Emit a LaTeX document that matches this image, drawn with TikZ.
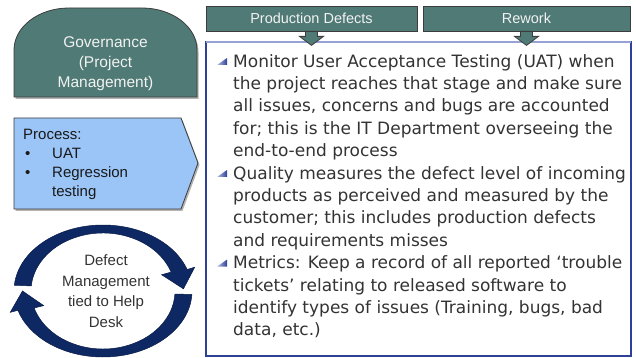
\documentclass[tikz,border=0pt]{standalone}
\usepackage{fontspec}
\setmainfont{Liberation Sans}
\newfontfamily\verd{DejaVu Sans}
\usetikzlibrary{calc,shadows}
\definecolor{tealbox}{RGB}{79,122,118}
\definecolor{hdrtext}{RGB}{242,242,242}
\definecolor{procblue}{RGB}{155,196,247}
\definecolor{navyarrow}{RGB}{14,40,100}
\definecolor{boxblue}{RGB}{45,66,150}
\definecolor{boxtop}{RGB}{150,162,212}
\definecolor{textgray}{RGB}{51,51,51}
\definecolor{edgegray}{RGB}{60,60,60}
\begin{document}
\begin{tikzpicture}[x=1pt,y=1pt,
  shapeedge/.style={draw=edgegray,line width=0.8pt},
  softshadow/.style={drop shadow={shadow xshift=1.5pt,shadow yshift=-2pt,opacity=0.3,fill=black}},
  hdr/.style={shapeedge,fill=tealbox,text=hdrtext,minimum width=211pt,minimum height=25pt,inner sep=0pt,font=\fontsize{14.5}{17}\selectfont},
  downarrow/.style={shapeedge,fill=tealbox,line join=miter},
  cyclearrow/.style={fill=navyarrow,draw=navyarrow!70!black,line width=0.5pt},
  bultri/.style={left color=boxtop!70!white,right color=boxblue}]
\useasboundingbox (0,0) rectangle (636,358);

% ---- Governance (rounded top) ----
\path[shapeedge,fill=tealbox,softshadow] (14,261) -- (14,308)
  arc[start angle=180,end angle=90,x radius=55pt,y radius=42pt] -- (142,350)
  arc[start angle=90,end angle=0,x radius=55pt,y radius=42pt] -- (197,261) -- cycle;
\node[align=center,text=hdrtext,font=\fontsize{15.5}{20}\selectfont] (gov) at (105.5,294) {Governance\\(Project\\Management)};

% ---- Process chevron ----
\path[shapeedge,fill=procblue,softshadow] (14,240) -- (181,240) -- (198,195) -- (181,149) -- (14,149) -- cycle;
\node[anchor=north west,inner sep=0pt,font=\fontsize{15}{19}\selectfont,text=black!90] (proc) at (23,232)
 {\begin{tabular}{@{}p{29pt}@{}l@{}}
  \multicolumn{2}{@{}l@{}}{Process:}\\
  \hspace{2pt}\textbullet & UAT\\
  \hspace{2pt}\textbullet & Regression\\
  & testing
 \end{tabular}};

% ---- Cycle arrows ----
\coordinate (C) at (103,67);
\path[cyclearrow] ($(C)+(175:89pt and 66pt)$)
  arc[start angle=175,end angle=19,x radius=89pt,y radius=66pt]
  -- ($(C)+(19:97pt and 73pt)$) -- ($(C)+(2:80.5pt and 62pt)$)
  -- ($(C)+(19:62pt and 50pt)$) -- ($(C)+(19:72pt and 58pt)$)
  arc[start angle=19,end angle=175,x radius=72pt,y radius=58pt] -- cycle;
\path[cyclearrow] ($(C)+(-3:89pt and 66pt)$)
  arc[start angle=-3,end angle=-163,x radius=89pt,y radius=66pt]
  -- ($(C)+(-163:97pt and 73pt)$) -- ($(C)+(-180:80.5pt and 62pt)$)
  -- ($(C)+(-163:62pt and 50pt)$) -- ($(C)+(-163:72pt and 58pt)$)
  arc[start angle=-163,end angle=-3,x radius=72pt,y radius=58pt] -- cycle;
\node[align=center,text=textgray,font=\fontsize{15}{20.5}\selectfont] (cyc) at (106,67) {Defect\\Management\\tied to Help\\Desk};

% ---- Right text box ----
\draw[boxblue,line width=1.1pt] (206,2) rectangle (631,316);
\draw[boxtop,line width=1.1pt] (206,316) -- (631,316);

% ---- Headers ----
\node[hdr] (pd) at (311.5,339.5) {Production Defects};
\node[hdr,minimum width=207pt] (rw) at (526.5,339.5) {Rework};
\foreach \h in {pd,rw}{
  \path[downarrow] ($(\h.south)+(-6,0)$) -- ($(\h.south)+(-6,-5)$) -- ($(\h.south)+(-12,-5)$)
    -- ($(\h.south)+(0,-14)$) -- ($(\h.south)+(12,-5)$) -- ($(\h.south)+(6,-5)$) -- ($(\h.south)+(6,0)$) -- cycle;
}

% ---- Bullet triangles ----
\foreach \b in {66,178,267.6}{
  \shade[bultri] (217,358-\b+1) -- (227,358-\b+1) -- (227,358-\b+8) -- cycle;
}

% ---- Body text ----
\node[anchor=north west,inner sep=0pt,text=textgray,font=\verd\fontsize{17}{22.4}\selectfont] (body) at (233,306.7)
 {\begin{tabular}{@{}l@{}}
 Monitor User Acceptance Testing (UAT) when\\
 the project reaches that stage and make sure\\
 all issues, concerns and bugs are accounted\\
 for; this is the IT Department overseeing the\\
 end-to-end process\\
 Quality measures the defect level of incoming\\
 products as perceived and measured by the\\
 customer; this includes production defects\\
 and requirements misses\\
 Metrics: Keep a record of all reported ‘trouble\\
 tickets’ relating to released software to\\
 identify types of issues (Training, bugs, bad\\
 data, etc.)
 \end{tabular}};
\end{tikzpicture}
\end{document}
